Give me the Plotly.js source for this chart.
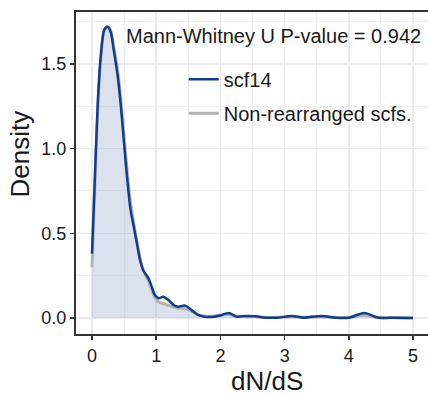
<!DOCTYPE html>
<html>
<head>
<meta charset="utf-8">
<script src="https://cdn.plot.ly/plotly-3.0.1.min.js"></script>
<style>
html, body { margin: 0; padding: 0; overflow: hidden; background: #fff; }
#chart { width: 458px; height: 395px; }
</style>
</head>
<body>
<div id="chart"></div>
<script>
// dN/dS grid
const dnds = [0, 0.04, 0.09, 0.14, 0.19, 0.24, 0.29, 0.34, 0.40, 0.45, 0.50, 0.55, 0.60, 0.65, 0.70, 0.75, 0.80, 0.88, 0.93, 0.98, 1.04, 1.11, 1.19, 1.27, 1.34, 1.45, 1.55, 1.65, 1.75, 1.90, 2.0, 2.13, 2.25, 2.4, 2.55, 2.7, 2.9, 3.11, 3.3, 3.57, 3.8, 4.0, 4.24, 4.45, 4.7, 5.0];
// density of scf14
const densScf14 = [0.38, 0.78, 1.27, 1.56, 1.70, 1.72, 1.69, 1.58, 1.43, 1.25, 1.03, 0.815, 0.64, 0.54, 0.44, 0.34, 0.28, 0.234, 0.185, 0.136, 0.116, 0.126, 0.106, 0.077, 0.067, 0.073, 0.047, 0.018, 0.008, 0.008, 0.015, 0.03, 0.008, 0.012, 0.01, 0.002, 0.002, 0.012, 0.002, 0.012, 0.002, 0.002, 0.03, 0.003, 0.001, 0.0];
// density of non-rearranged scaffolds
const densNonRearr = [0.30, 0.72, 1.24, 1.55, 1.70, 1.72, 1.70, 1.60, 1.46, 1.29, 1.07, 0.86, 0.68, 0.56, 0.45, 0.35, 0.28, 0.22, 0.165, 0.12, 0.095, 0.085, 0.075, 0.063, 0.058, 0.055, 0.04, 0.02, 0.012, 0.012, 0.018, 0.02, 0.01, 0.008, 0.008, 0.004, 0.004, 0.008, 0.004, 0.008, 0.003, 0.003, 0.015, 0.003, 0.001, 0.0];
const seriesNames = ["scf14", "Non-rearranged scfs."];
const xTicks = [0, 1, 2, 3, 4, 5];
const yTicks = [0, 0.5, 1.0, 1.5];
const pValueText = "Mann-Whitney U P-value = 0.942";

const FONT = "Liberation Sans, Arial, sans-serif";
const blue = "#123c8c";
const gray = "#b3b3b3";

const traces = [
  {
    x: dnds, y: densNonRearr, type: "scatter", mode: "lines",
    fill: "tozeroy", fillcolor: "rgba(150,168,200,0.33)",
    line: { width: 0, shape: "spline", smoothing: 0.8 },
    showlegend: false, hoverinfo: "skip"
  },
  {
    x: dnds, y: densNonRearr, type: "scatter", mode: "lines",
    name: seriesNames[1], legendgroup: "b", legendrank: 2,
    line: { color: gray, width: 3, shape: "spline", smoothing: 0.8 }
  },
  {
    x: dnds, y: densScf14, type: "scatter", mode: "lines",
    name: seriesNames[0], legendgroup: "a", legendrank: 1,
    line: { color: blue, width: 2.5, shape: "spline", smoothing: 0.8 }
  }
];

const layout = {
  width: 458, height: 395,
  margin: { l: 76, r: 0, t: 12, b: 61 },
  paper_bgcolor: "#fff", plot_bgcolor: "#fff",
  font: { family: FONT, color: "#1a1a1a" },
  xaxis: {
    range: [-0.249, 5.70],
    tickvals: xTicks, ticktext: xTicks.map(String),
    ticks: "outside", ticklen: 4, tickwidth: 1.5, tickcolor: "#333",
    tickfont: { size: 18, color: "#1a1a1a", family: FONT },
    showline: true, linecolor: "#333", linewidth: 2, mirror: true,
    showgrid: true, gridcolor: "#ebebeb", gridwidth: 1.5,
    minor: { dtick: 0.5, tick0: 0.5, showgrid: true, gridcolor: "#f0f0f0", gridwidth: 1 },
    zeroline: false, fixedrange: true
  },
  yaxis: {
    range: [-0.0945, 1.807],
    tickvals: yTicks, ticktext: yTicks.map(v => v.toFixed(1)),
    ticks: "outside", ticklen: 4, tickwidth: 1.5, tickcolor: "#333",
    tickfont: { size: 18, color: "#1a1a1a", family: FONT },
    showline: true, linecolor: "#333", linewidth: 2,
    showgrid: true, gridcolor: "#ebebeb", gridwidth: 1.5,
    minor: { dtick: 0.5, tick0: 0.25, showgrid: true, gridcolor: "#f0f0f0", gridwidth: 1 },
    zeroline: false, fixedrange: true
  },
  legend: {
    x: 0.282, y: 0.852, xanchor: "left", yanchor: "top",
    bgcolor: "rgba(0,0,0,0)", borderwidth: 0,
    font: { size: 20, family: FONT, color: "#1a1a1a" },
    traceorder: "grouped", tracegroupgap: 5
  },
  annotations: [
    {
      text: pValueText, xref: "paper", yref: "paper",
      x: 0.126, y: 0.925, xanchor: "left", yanchor: "middle",
      showarrow: false, font: { size: 20, family: FONT, color: "#1a1a1a" }
    },
    {
      text: "Density", xref: "paper", yref: "paper",
      x: -0.147, y: 0.56, xanchor: "center", yanchor: "middle", textangle: -90,
      showarrow: false, font: { size: 26, family: FONT, color: "#1a1a1a" }
    },
    {
      text: "dN/dS", xref: "paper", yref: "paper",
      x: 0.5, y: -0.147, xanchor: "center", yanchor: "middle",
      showarrow: false, font: { size: 26, family: FONT, color: "#1a1a1a" }
    }
  ],
  showlegend: true
};

Plotly.newPlot("chart", traces, layout, { displayModeBar: false, staticPlot: true });
</script>
</body>
</html>
